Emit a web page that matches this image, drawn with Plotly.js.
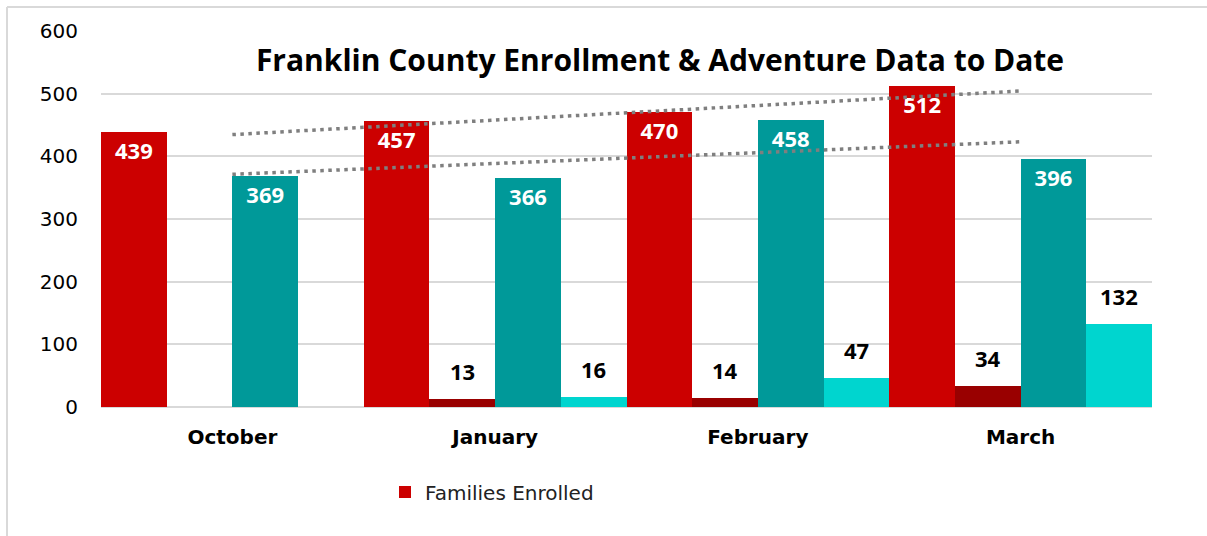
<!DOCTYPE html>
<html>
<head>
<meta charset="utf-8">
<script src="https://cdn.plot.ly/plotly-3.0.1.min.js"></script>
<style>html,body{margin:0;padding:0;background:#fff;}#chart{width:1207px;height:536px;}</style>
</head>
<body>
<div id="chart"></div>
<script>
const months = ["October", "January", "February", "March"];
const familiesEnrolled = [439, 457, 470, 512];
const familiesAdventures = [null, 13, 14, 34];
const childrenEnrolled = [369, 366, 458, 396];
const childrenAdventures = [null, 16, 47, 132];
const yTicks = [0, 100, 200, 300, 400, 500, 600];
const titleText = "Franklin County Enrollment &amp; Adventure Data to Date";

function linearTrend(vals) {
  const n = vals.length;
  const xs = vals.map((_, i) => i + 1);
  const mx = xs.reduce((a, b) => a + b, 0) / n;
  const my = vals.reduce((a, b) => a + b, 0) / n;
  let num = 0, den = 0;
  for (let i = 0; i < n; i++) { num += (xs[i] - mx) * (vals[i] - my); den += (xs[i] - mx) ** 2; }
  const s = num / den;
  return xs.map(x => my + s * (x - mx));
}

const FONT = "Open Sans, Lato, sans-serif";
const WIDE = "DejaVu Sans, sans-serif";
const insideFont = {family: FONT, size: 22, color: "#ffffff", weight: 700};
const outsideFont = {family: FONT, size: 22, color: "#000000", weight: 700};

const margin = {l: 101, r: 55, t: 31, b: 129};
const plotW = 1207 - margin.l - margin.r;
const nSeries = 4;
const barPx = plotW / months.length / nSeries;

const traces = [
  {type: "bar", name: "Families Enrolled", x: months, y: familiesEnrolled,
   marker: {color: "#CC0000"}, text: familiesEnrolled.map(String),
   textposition: "inside", insidetextanchor: "end", textfont: insideFont,
   constraintext: "none", showlegend: true, hoverinfo: "y"},
  {type: "bar", name: "Families Adventures", x: months, y: familiesAdventures,
   marker: {color: "#990000"}, showlegend: false, hoverinfo: "y"},
  {type: "bar", name: "Children Enrolled", x: months, y: childrenEnrolled,
   marker: {color: "#009999"}, text: childrenEnrolled.map(String),
   textposition: "inside", insidetextanchor: "end", textfont: insideFont,
   constraintext: "none", showlegend: false, hoverinfo: "y"},
  {type: "bar", name: "Children Adventures", x: months, y: childrenAdventures,
   marker: {color: "#00D5CF"}, showlegend: false, hoverinfo: "y"},
  {type: "scatter", mode: "lines", x: months, y: linearTrend(familiesEnrolled),
   line: {color: "#7f7f7f", width: 3.5, dash: "3.5px,4.5px"}, showlegend: false, hoverinfo: "skip"},
  {type: "scatter", mode: "lines", x: months, y: linearTrend(childrenEnrolled),
   line: {color: "#7f7f7f", width: 3.5, dash: "3.5px,4.5px"}, showlegend: false, hoverinfo: "skip"}
];

// outside labels for the small series (series index 1 and 3 within each group)
const annotations = [];
[[familiesAdventures, 1], [childrenAdventures, 3]].forEach(([vals, idx]) => {
  vals.forEach((v, i) => {
    if (v == null) return;
    annotations.push({x: months[i], y: v, xref: "x", yref: "y", text: "<b>" + v + "</b>",
      showarrow: false, xshift: (idx - (nSeries - 1) / 2) * barPx, yshift: 28,
      yanchor: "middle", font: outsideFont});
  });
});

const layout = {
  width: 1207, height: 536,
  margin: margin,
  paper_bgcolor: "#ffffff", plot_bgcolor: "#ffffff",
  barmode: "group", bargap: 0, bargroupgap: 0,
  font: {family: FONT, color: "#000000"},
  title: {text: "<b>" + titleText + "</b>", font: {family: FONT, size: 30, color: "#000000"},
          xref: "container", x: 660 / 1207, xanchor: "center",
          yref: "container", y: 1 - 60 / 536, yanchor: "middle"},
  xaxis: {type: "category", showgrid: false, zeroline: false, showline: false,
          ticks: "", tickfont: {family: WIDE, size: 20, color: "#000000", weight: 700},
          ticklabelstandoff: 16},
  yaxis: {range: [0, 600], tickvals: yTicks, ticktext: yTicks.map(String),
          showgrid: true, gridcolor: "#d9d9d9", gridwidth: 2,
          zeroline: true, zerolinecolor: "#d9d9d9", zerolinewidth: 2,
          showline: false, ticks: "", ticklabelstandoff: 22,
          tickfont: {family: WIDE, size: 20, color: "#000000"}},
  showlegend: true,
  legend: {orientation: "h", xref: "container", yref: "container",
           x: 385 / 1207, xanchor: "left", y: 1 - 492 / 536, yanchor: "middle",
           font: {family: WIDE, size: 20, color: "#222222"}, bgcolor: "rgba(0,0,0,0)"},
  annotations: annotations,
  shapes: [
    {type: "line", xref: "paper", yref: "paper", x0: -94 / plotW, x1: 1106 / plotW,
     y0: 1 + 24 / 376, y1: 1 + 24 / 376, line: {color: "#d9d9d9", width: 2}},
    {type: "line", xref: "paper", yref: "paper", x0: -94 / plotW, x1: -94 / plotW,
     y0: 1 + 24 / 376, y1: -129 / 376, line: {color: "#d9d9d9", width: 2}}
  ]
};

Plotly.newPlot("chart", traces, layout, {displayModeBar: false, staticPlot: true});
</script>
</body>
</html>
